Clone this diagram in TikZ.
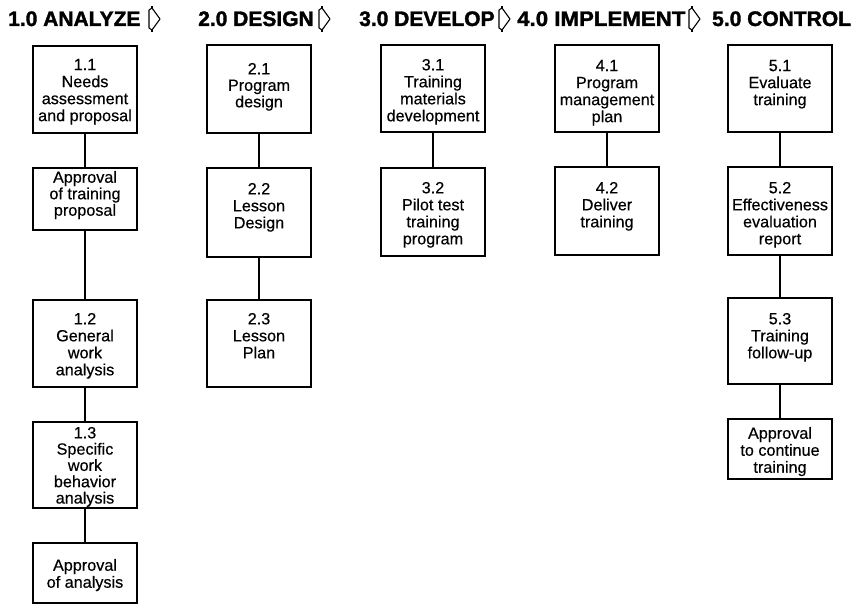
\documentclass[tikz,border=0pt]{standalone}
\usepackage{fontspec}
\usepackage{graphicx}
\setmainfont[FakeBold=0.4]{Liberation Sans}
\newfontfamily\hdfont[FakeBold=1.6]{Liberation Sans}
\begin{document}
\begin{tikzpicture}[x=1pt,y=-1pt]
\tikzset{
  boxst/.style={draw=black, line width=1.5pt, inner sep=0pt, outer sep=0pt, fill=white},
  conn/.style={draw=black, line width=1.5pt},
  hd/.style={inner sep=0pt, anchor=base west, font=\hdfont\bfseries\fontsize{21}{24}\selectfont},
  harrow/.style={draw=black, line width=1.1pt, line join=round}
}
\useasboundingbox (0,0) rectangle (858,604);
\newcommand{\bx}[8]{%
  \node[boxst, anchor=north west] (#1) at (#2,#3)
  {\parbox[t][#5pt][t]{#4pt}{\centering\fontsize{16.2}{#8}\selectfont\vspace*{#6pt}#7\par}};}
\newcommand{\harr}[2]{%
  \draw[harrow] (#1,#2+3) -- (#1+3,#2+1) -- (#1+11,#2+12) -- (#1+3,#2+23) -- (#1,#2+21) -- cycle;
  \draw[harrow] (#1+3,#2+1) -- (#1+3,#2-1);
  \draw[harrow] (#1+3,#2+23) -- (#1+3,#2+25);}
% headers
\node[hd] (h1) at (8,26) {1.0 ANALYZE};
\node[hd] (h2) at (198,26) {2.0 DESIGN};
\node[hd] (h3) at (359,26) {3.0 DEVELOP};
\node[hd] (h4) at (517,26) {\scalebox{1.06}[1]{4.0 IMPLEMENT}};
\node[hd] (h5) at (712,26) {5.0 CONTROL};
\harr{149}{7}
\harr{319}{7}
\harr{499}{7}
\harr{689}{7}
% column 1
\bx{b11}{33}{46}{104}{87}{13}{1.1\\Needs\\assessment\\and proposal}{17}
\bx{a1}{33}{168}{104}{62}{3}{Approval\\of training\\proposal}{16.5}
\bx{b12}{33}{300}{104}{87}{13}{1.2\\General\\work\\analysis}{17}
\bx{b13}{33}{422}{104}{86}{5}{1.3\\Specific\\work\\behavior\\analysis}{16.3}
\bx{a2}{33}{543}{104}{60}{16}{Approval\\of analysis}{17}
% column 2
\bx{b21}{207}{45}{104}{88}{18}{2.1\\Program\\design}{16.5}
\bx{b22}{207}{168}{104}{89}{15}{2.2\\Lesson\\Design}{17}
\bx{b23}{207}{300}{104}{87}{13}{2.3\\Lesson\\Plan}{17}
% column 3
\bx{b31}{381}{45}{104}{87}{14}{3.1\\Training\\materials\\development}{17}
\bx{b32}{381}{168}{104}{88}{14}{3.2\\Pilot test\\training\\program}{17}
% column 4
\bx{b41}{555}{45}{104}{87}{15}{4.1\\Program\\management\\plan}{17}
\bx{b42}{555}{167}{104}{88}{15}{4.2\\Deliver\\training}{17}
% column 5
\bx{b51}{728}{45}{104}{87}{15}{5.1\\Evaluate\\training}{17}
\bx{b52}{728}{167}{104}{88}{15}{5.2\\Effectiveness\\evaluation\\report}{17}
\bx{b53}{728}{298}{104}{86}{15}{5.3\\Training\\follow-up}{17}
\bx{a5}{728}{419}{104}{60}{8}{Approval\\to continue\\training}{17}
% connectors
\draw[conn] (b11.south) -- (a1.north);
\draw[conn] (a1.south) -- (b12.north);
\draw[conn] (b12.south) -- (b13.north);
\draw[conn] (b13.south) -- (a2.north);
\draw[conn] (b21.south) -- (b22.north);
\draw[conn] (b22.south) -- (b23.north);
\draw[conn] (b31.south) -- (b32.north);
\draw[conn] (b41.south) -- (b42.north);
\draw[conn] (b51.south) -- (b52.north);
\draw[conn] (b52.south) -- (b53.north);
\draw[conn] (b53.south) -- (a5.north);
\end{tikzpicture}
\end{document}
